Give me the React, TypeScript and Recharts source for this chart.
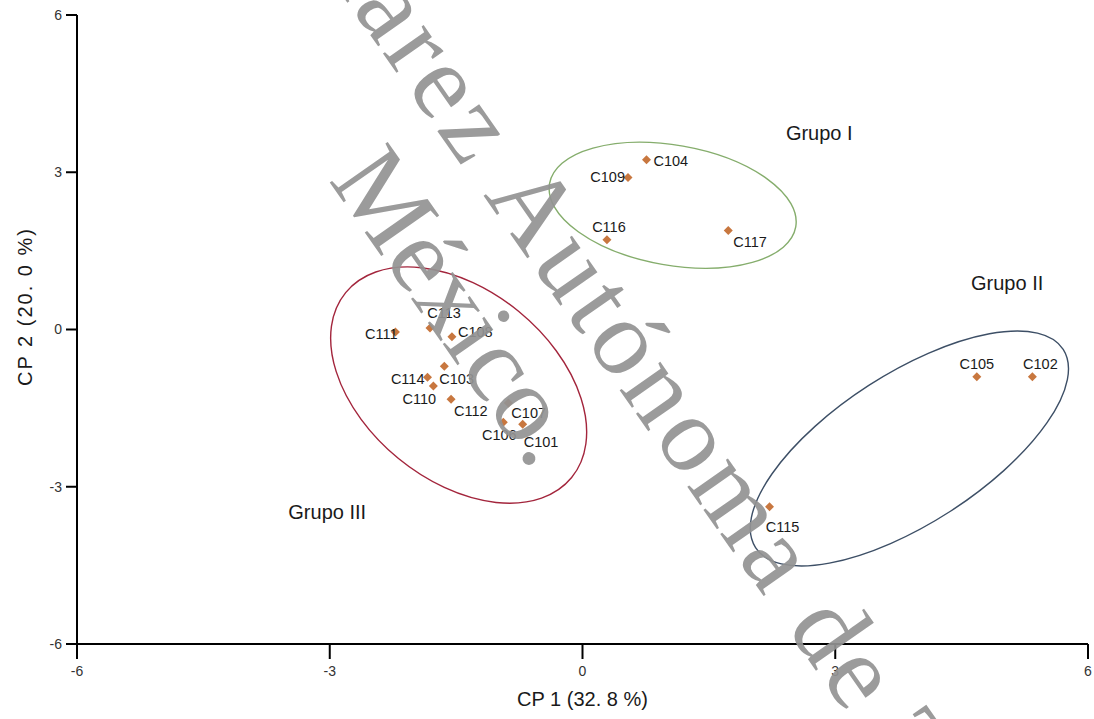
import React from 'react';
import { ScatterChart, Scatter, XAxis, YAxis } from 'recharts';

// PCA scores
const names = ['C101', 'C102', 'C103', 'C104', 'C105', 'C106', 'C107', 'C108', 'C109', 'C110', 'C111', 'C112', 'C113', 'C114', 'C115', 'C116', 'C117'];
const cp1 = [-0.71, 5.34, -1.64, 0.76, 4.68, -0.94, -0.88, -1.55, 0.54, -1.77, -2.22, -1.56, -1.81, -1.84, 2.22, 0.29, 1.73];
const cp2 = [-1.81, -0.9, -0.7, 3.24, -0.9, -1.77, -1.4, -0.14, 2.9, -1.08, -0.05, -1.33, 0.03, -0.91, -3.38, 1.71, 1.89];

const groupNames = ['Grupo I', 'Grupo II', 'Grupo III'];
const groupLabelX = [2.81, 5.04, -3.03];
const groupLabelY = [3.75, 0.89, -3.48];
const groupCenterX = [1.07, 3.88, -1.47];
const groupCenterY = [2.37, -2.27, -1.06];

const axisTicks = [-6, -3, 0, 3, 6];

const points = names.map((name, i) => ({ name, x: cp1[i], y: cp2[i] }));
const groupLabels = groupNames.map((name, i) => ({ name, x: groupLabelX[i], y: groupLabelY[i] }));
const groupCenters = groupNames.map((name, i) => ({ name, x: groupCenterX[i], y: groupCenterY[i] }));

// where each point label sits relative to its marker
const labelPlacement: Record<string, { anchor: 'start' | 'middle' | 'end'; dx: number; dy: number }> = {
  C101: { anchor: 'start', dx: 1, dy: 18 },
  C102: { anchor: 'middle', dx: 8, dy: -13 },
  C103: { anchor: 'start', dx: -5, dy: 13 },
  C104: { anchor: 'start', dx: 7, dy: 1 },
  C105: { anchor: 'middle', dx: 0, dy: -13 },
  C106: { anchor: 'middle', dx: -4, dy: 13 },
  C107: { anchor: 'start', dx: 3, dy: 10 },
  C108: { anchor: 'start', dx: 6, dy: -5 },
  C109: { anchor: 'end', dx: -3, dy: 0 },
  C110: { anchor: 'middle', dx: -14, dy: 13 },
  C111: { anchor: 'end', dx: 2, dy: 2 },
  C112: { anchor: 'start', dx: 3, dy: 12 },
  C113: { anchor: 'middle', dx: 14, dy: -15 },
  C114: { anchor: 'end', dx: -3, dy: 2 },
  C115: { anchor: 'middle', dx: 13, dy: 20 },
  C116: { anchor: 'middle', dx: 2, dy: -13 },
  C117: { anchor: 'start', dx: 5, dy: 12 },
};

const ellipseStyle: Record<string, { rx: number; ry: number; angle: number; color: string }> = {
  'Grupo I': { rx: 125, ry: 60, angle: 10, color: '#85ad6c' },
  'Grupo II': { rx: 183, ry: 75, angle: -32.8, color: '#3d4f66' },
  'Grupo III': { rx: 146, ry: 95, angle: 39.3, color: '#a3253c' },
};

const FONT = "'Liberation Sans', Arial, sans-serif";

const PointShape = (props: any) => {
  const { cx, cy, payload } = props;
  const pos = labelPlacement[payload.name] ?? { anchor: 'start', dx: 6, dy: 0 };
  const r = 4.5;
  return (
    <g>
      <polygon points={`${cx},${cy - r} ${cx + r},${cy} ${cx},${cy + r} ${cx - r},${cy}`} fill="#c8773f" />
      <text x={cx + pos.dx} y={cy + pos.dy} textAnchor={pos.anchor} dominantBaseline="central" fontSize={14.5} fill="#1a1a1a" fontFamily={FONT}>
        {payload.name}
      </text>
    </g>
  );
};

const GroupLabelShape = (props: any) => {
  const { cx, cy, payload } = props;
  return (
    <text x={cx} y={cy} textAnchor="middle" dominantBaseline="central" fontSize={20} fill="#1a1a1a" fontFamily={FONT}>
      {payload.name}
    </text>
  );
};

const EllipseShape = (props: any) => {
  const { cx, cy, payload } = props;
  const s = ellipseStyle[payload.name];
  return (
    <ellipse cx={cx} cy={cy} rx={s.rx} ry={s.ry} transform={`rotate(${s.angle} ${cx} ${cy})`} fill="none" stroke={s.color} strokeWidth={1.4} />
  );
};

const XTick = (props: any) => {
  const { x, y, payload } = props;
  return (
    <text x={x} y={y + 12} textAnchor="middle" fontSize={14} fill="#333" fontFamily={FONT}>
      {payload.value}
    </text>
  );
};

const YTitle = (props: any) => {
  const { viewBox } = props;
  const x = viewBox.x + 25;
  const y = viewBox.y + viewBox.height / 2 - 23;
  return (
    <text x={x} y={y} transform={`rotate(-90 ${x} ${y})`} textAnchor="middle" dominantBaseline="central" fontSize={20} letterSpacing={2} fill="#1a1a1a" fontFamily={FONT}>
      CP 2 (20. 0 %)
    </text>
  );
};

// grey watermark lying over the figure
const Watermark = () => {
  const wm = { fontFamily: "'Liberation Serif', 'Times New Roman', serif", fontSize: 108, fill: '#939393', opacity: 0.92 };
  return (
    <svg width={1094} height={719} style={{ position: 'absolute', left: 0, top: 0, pointerEvents: 'none' }}>
      <text x={466} y={172} textAnchor="end" letterSpacing={5} transform="rotate(55 466 172)" {...wm}>Universidad Juárez</text>
      <text x={483} y={195} textAnchor="start" letterSpacing={5} transform="rotate(55 483 195)" {...wm}>Autónoma de Tabasco.</text>
      <text x={328} y={180} textAnchor="start" transform="rotate(55 328 180)" {...wm}>México.</text>
    </svg>
  );
};

export default function App() {
  return (
    <div style={{ position: 'absolute', left: 0, top: 0, width: 1094, height: 719, overflow: 'hidden', fontFamily: FONT, background: '#fff' }}>
      <ScatterChart width={1094} height={719} margin={{ top: 15, right: 6, left: 0, bottom: 0 }}>
        <XAxis
          type="number"
          dataKey="x"
          domain={[-6, 6]}
          ticks={axisTicks}
          interval={0}
          allowDataOverflow
          height={75}
          tickSize={15}
          tickMargin={5}
          axisLine={{ stroke: '#000', strokeWidth: 2 }}
          tickLine={{ stroke: '#000', strokeWidth: 2 }}
          tick={<XTick />}
          label={{ value: 'CP 1 (32. 8 %)', position: 'insideBottom', offset: 13, fontSize: 20, fill: '#1a1a1a', fontFamily: FONT }}
        />
        <YAxis
          type="number"
          dataKey="y"
          domain={[-6, 6]}
          ticks={axisTicks}
          interval={0}
          allowDataOverflow
          width={77}
          tickSize={11}
          tickMargin={4}
          axisLine={{ stroke: '#000', strokeWidth: 2 }}
          tickLine={{ stroke: '#000', strokeWidth: 2 }}
          tick={{ fill: '#333', fontSize: 14, fontFamily: FONT }}
          label={<YTitle />}
        />
        <Scatter data={groupCenters} shape={<EllipseShape />} isAnimationActive={false} />
        <Scatter data={groupLabels} shape={<GroupLabelShape />} isAnimationActive={false} />
        <Scatter data={points} shape={<PointShape />} isAnimationActive={false} />
      </ScatterChart>
      <Watermark />
    </div>
  );
}
